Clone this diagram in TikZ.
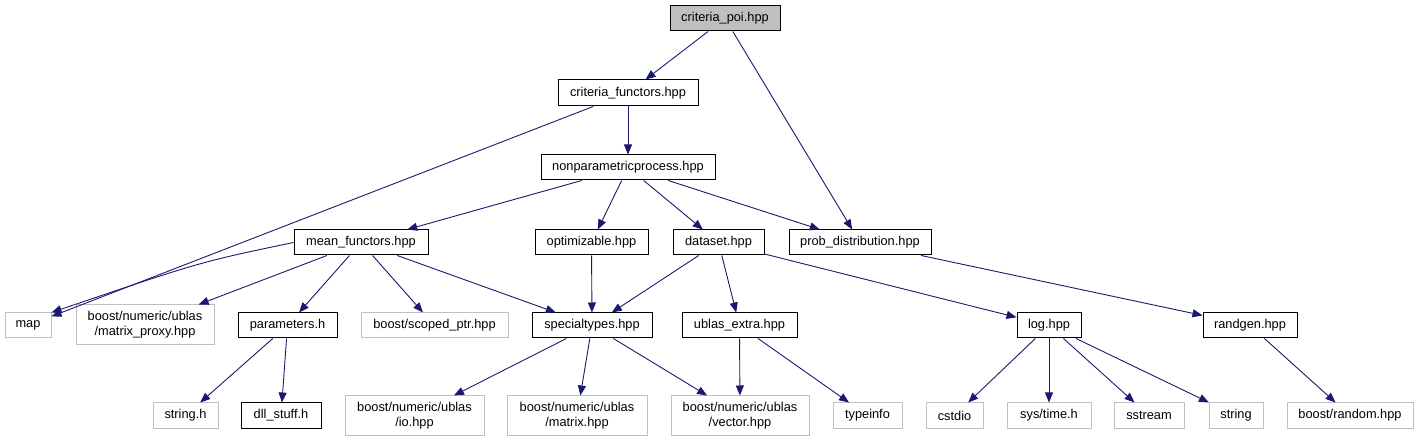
\documentclass[tikz,border=0pt]{standalone}
\usepackage{fontspec}
\setmainfont{Liberation Sans}
\usetikzlibrary{arrows.meta}
\definecolor{edgec}{HTML}{191970}
\definecolor{grayb}{HTML}{BFBFBF}
\tikzset{
  base/.style={draw, line width=1pt, inner sep=0pt, align=center, minimum height=25pt,
    font=\fontsize{12.8}{15}\selectfont, text=black},
  blk/.style={base, draw=black},
  gry/.style={base, draw=grayb},
  root/.style={base, draw=black, fill=grayb},
  dep/.style={draw=edgec, line width=0.9pt, -{Triangle[length=10pt,width=8pt]}},
}
\begin{document}
\begin{tikzpicture}[x=1pt,y=-1pt]
\useasboundingbox (0,0) rectangle (1419,443);
% level 0
\node[root, minimum width=110pt] (poi) at (725,18.5) {criteria\_poi.hpp};
% level 1
\node[blk, minimum width=140pt, minimum height=26pt] (cf) at (628,93) {criteria\_functors.hpp};
% level 2
\node[blk, minimum width=174pt] (np) at (628,167.5) {nonparametricprocess.hpp};
% level 3
\node[blk, minimum width=134pt] (mf) at (361,242.5) {mean\_functors.hpp};
\node[blk, minimum width=113pt] (opt) at (591.5,242.5) {optimizable.hpp};
\node[blk, minimum width=91pt] (ds) at (718.5,242.5) {dataset.hpp};
\node[blk, minimum width=142pt] (pd) at (860,242.5) {prob\_distribution.hpp};
% level 4
\node[gry, minimum width=46pt] (map) at (28,325.5) {map};
\node[gry, minimum width=138pt, minimum height=40pt] (mp) at (145,325) {boost/numeric/ublas\\/matrix\_proxy.hpp};
\node[blk, minimum width=99pt] (par) at (287.5,325.5) {parameters.h};
\node[gry, minimum width=147pt] (sp) at (434.5,325.5) {boost/scoped\_ptr.hpp};
\node[blk, minimum width=120pt] (st) at (592,325.5) {specialtypes.hpp};
\node[blk, minimum width=115pt] (ue) at (739.5,325.5) {ublas\_extra.hpp};
\node[blk, minimum width=64pt] (log) at (1049,325.5) {log.hpp};
\node[blk, minimum width=94pt] (rg) at (1250,325.5) {randgen.hpp};
% level 5
\node[gry, minimum width=65pt] (strh) at (185.5,415.5) {string.h};
\node[blk, minimum width=80pt] (dll) at (281,415.5) {dll\_stuff.h};
\node[gry, minimum width=139pt, minimum height=39pt] (io) at (414.5,415.5) {boost/numeric/ublas\\/io.hpp};
\node[gry, minimum width=140pt, minimum height=39pt] (mat) at (577,415.5) {boost/numeric/ublas\\/matrix.hpp};
\node[gry, minimum width=138pt, minimum height=39pt] (vec) at (740,415.5) {boost/numeric/ublas\\/vector.hpp};
\node[gry, minimum width=69pt] (ti) at (867.5,415.5) {typeinfo};
\node[gry, minimum width=57pt] (cst) at (954.5,415.5) {cstdio};
\node[gry, minimum width=84pt] (sys) at (1049,415.5) {sys/time.h};
\node[gry, minimum width=70pt] (ss) at (1149,415.5) {sstream};
\node[gry, minimum width=54pt] (str) at (1236,415.5) {string};
\node[gry, minimum width=126pt] (br) at (1350,415.5) {boost/random.hpp};
% edges
\draw[dep] (poi) -- (cf);
\draw[dep] (poi) -- (pd);
\draw[dep] (cf) -- (map);
\draw[dep] (cf) -- (np);
\draw[dep] (np) -- (mf);
\draw[dep] (np) -- (opt);
\draw[dep] (np) -- (ds);
\draw[dep] (np) -- (pd);
\draw[dep] (mf.west) .. controls (200,262) .. (map.north east);
\draw[dep] (mf) -- (mp);
\draw[dep] (mf) -- (par);
\draw[dep] (mf) -- (sp);
\draw[dep] (mf) -- (st);
\draw[dep] (opt) -- (st);
\draw[dep] (ds) -- (st);
\draw[dep] (ds) -- (ue);
\draw[dep] (ds) -- (log);
\draw[dep] (pd) -- (rg);
\draw[dep] (par) -- (strh);
\draw[dep] (par) -- (dll);
\draw[dep] (st) -- (io);
\draw[dep] (st) -- (mat);
\draw[dep] (st) -- (vec);
\draw[dep] (ue) -- (vec);
\draw[dep] (ue) -- (ti);
\draw[dep] (log) -- (cst);
\draw[dep] (log) -- (sys);
\draw[dep] (log) -- (ss);
\draw[dep] (log) -- (str);
\draw[dep] (rg) -- (br);
\end{tikzpicture}
\end{document}
